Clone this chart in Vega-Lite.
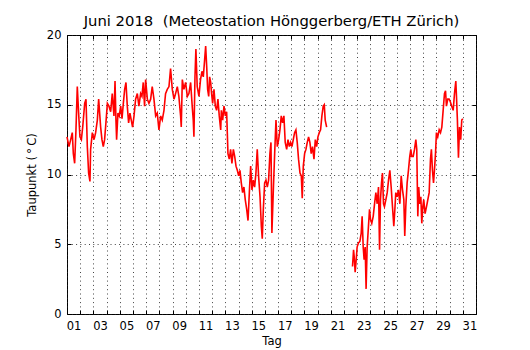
{
  "$schema": "https://vega.github.io/schema/vega-lite/v6.json",
  "width": 409,
  "height": 279,
  "autosize": "none",
  "padding": {"left": 67, "top": 35, "right": 54, "bottom": 36},
  "background": "white",
  "title": {"text": "Juni 2018\u00a0\u00a0(Meteostation Hönggerberg/ETH Zürich)", "font": "DejaVu Sans", "fontSize": 14.8, "fontWeight": "normal", "color": "black", "offset": 5, "dy": 5},
  "config": {
    "view": {"stroke": "black", "strokeWidth": 1},
    "axis": {
      "labelFont": "DejaVu Sans", "labelFontSize": 11.5, "labelColor": "black",
      "titleFont": "DejaVu Sans", "titleFontSize": 11.5, "titleFontWeight": "normal", "titleColor": "black",
      "tickColor": "black", "tickSize": -4, "domain": false,
      "gridColor": "#222222", "gridDash": [1, 3.3], "gridWidth": 1, "gridOpacity": 0.85
    }
  },
  "data": {"values": [
{"tag":1.0,"taupunkt":12.7,"abschnitt":"a"},{"tag":1.15,"taupunkt":12.0,"abschnitt":"a"},{"tag":1.28,"taupunkt":12.5,"abschnitt":"a"},{"tag":1.40,"taupunkt":13.0,"abschnitt":"a"},{"tag":1.48,"taupunkt":11.5,"abschnitt":"a"},{"tag":1.58,"taupunkt":10.8,"abschnitt":"a"},{"tag":1.68,"taupunkt":13.2,"abschnitt":"a"},{"tag":1.78,"taupunkt":16.3,"abschnitt":"a"},{"tag":1.88,"taupunkt":14.4,"abschnitt":"a"},{"tag":1.98,"taupunkt":12.7,"abschnitt":"a"},
{"tag":2.09,"taupunkt":12.5,"abschnitt":"a"},{"tag":2.19,"taupunkt":13.4,"abschnitt":"a"},{"tag":2.34,"taupunkt":15.1,"abschnitt":"a"},{"tag":2.44,"taupunkt":15.4,"abschnitt":"a"},{"tag":2.54,"taupunkt":12.0,"abschnitt":"a"},{"tag":2.64,"taupunkt":10.1,"abschnitt":"a"},{"tag":2.74,"taupunkt":9.5,"abschnitt":"a"},{"tag":2.79,"taupunkt":11.8,"abschnitt":"a"},{"tag":2.92,"taupunkt":13.0,"abschnitt":"a"},
{"tag":3.05,"taupunkt":12.5,"abschnitt":"a"},{"tag":3.17,"taupunkt":13.0,"abschnitt":"a"},{"tag":3.30,"taupunkt":13.9,"abschnitt":"a"},{"tag":3.40,"taupunkt":15.4,"abschnitt":"a"},{"tag":3.55,"taupunkt":13.4,"abschnitt":"a"},{"tag":3.65,"taupunkt":12.5,"abschnitt":"a"},{"tag":3.75,"taupunkt":12.0,"abschnitt":"a"},{"tag":3.85,"taupunkt":12.5,"abschnitt":"a"},{"tag":3.95,"taupunkt":13.7,"abschnitt":"a"},
{"tag":4.06,"taupunkt":15.1,"abschnitt":"a"},{"tag":4.18,"taupunkt":14.9,"abschnitt":"a"},{"tag":4.31,"taupunkt":14.5,"abschnitt":"a"},{"tag":4.43,"taupunkt":15.8,"abschnitt":"a"},{"tag":4.56,"taupunkt":14.2,"abschnitt":"a"},{"tag":4.64,"taupunkt":16.7,"abschnitt":"a"},{"tag":4.71,"taupunkt":13.9,"abschnitt":"a"},{"tag":4.76,"taupunkt":12.5,"abschnitt":"a"},{"tag":4.86,"taupunkt":14.4,"abschnitt":"a"},{"tag":4.96,"taupunkt":14.2,"abschnitt":"a"},
{"tag":5.07,"taupunkt":14.9,"abschnitt":"a"},{"tag":5.17,"taupunkt":14.0,"abschnitt":"a"},{"tag":5.27,"taupunkt":15.1,"abschnitt":"a"},{"tag":5.37,"taupunkt":16.1,"abschnitt":"a"},{"tag":5.47,"taupunkt":16.6,"abschnitt":"a"},{"tag":5.57,"taupunkt":14.9,"abschnitt":"a"},{"tag":5.67,"taupunkt":13.7,"abschnitt":"a"},{"tag":5.77,"taupunkt":14.4,"abschnitt":"a"},{"tag":5.87,"taupunkt":13.9,"abschnitt":"a"},{"tag":5.97,"taupunkt":13.4,"abschnitt":"a"},
{"tag":6.08,"taupunkt":14.2,"abschnitt":"a"},{"tag":6.20,"taupunkt":15.4,"abschnitt":"a"},{"tag":6.33,"taupunkt":15.8,"abschnitt":"a"},{"tag":6.45,"taupunkt":14.9,"abschnitt":"a"},{"tag":6.58,"taupunkt":15.8,"abschnitt":"a"},{"tag":6.68,"taupunkt":15.6,"abschnitt":"a"},{"tag":6.78,"taupunkt":16.6,"abschnitt":"a"},{"tag":6.88,"taupunkt":14.9,"abschnitt":"a"},{"tag":6.96,"taupunkt":16.8,"abschnitt":"a"},
{"tag":7.09,"taupunkt":15.4,"abschnitt":"a"},{"tag":7.21,"taupunkt":15.1,"abschnitt":"a"},{"tag":7.34,"taupunkt":15.4,"abschnitt":"a"},{"tag":7.46,"taupunkt":16.3,"abschnitt":"a"},{"tag":7.59,"taupunkt":15.4,"abschnitt":"a"},{"tag":7.72,"taupunkt":14.2,"abschnitt":"a"},{"tag":7.84,"taupunkt":14.4,"abschnitt":"a"},{"tag":7.97,"taupunkt":13.2,"abschnitt":"a"},
{"tag":8.10,"taupunkt":14.2,"abschnitt":"a"},{"tag":8.22,"taupunkt":13.9,"abschnitt":"a"},{"tag":8.35,"taupunkt":14.6,"abschnitt":"a"},{"tag":8.47,"taupunkt":15.8,"abschnitt":"a"},{"tag":8.60,"taupunkt":16.1,"abschnitt":"a"},{"tag":8.73,"taupunkt":16.3,"abschnitt":"a"},{"tag":8.85,"taupunkt":17.6,"abschnitt":"a"},{"tag":8.98,"taupunkt":16.1,"abschnitt":"a"},
{"tag":9.11,"taupunkt":15.4,"abschnitt":"a"},{"tag":9.23,"taupunkt":15.8,"abschnitt":"a"},{"tag":9.36,"taupunkt":16.3,"abschnitt":"a"},{"tag":9.48,"taupunkt":15.6,"abschnitt":"a"},{"tag":9.61,"taupunkt":14.2,"abschnitt":"a"},{"tag":9.66,"taupunkt":13.4,"abschnitt":"a"},{"tag":9.74,"taupunkt":16.8,"abschnitt":"a"},{"tag":9.86,"taupunkt":16.1,"abschnitt":"a"},{"tag":9.99,"taupunkt":16.6,"abschnitt":"a"},
{"tag":10.12,"taupunkt":15.6,"abschnitt":"a"},{"tag":10.24,"taupunkt":15.8,"abschnitt":"a"},{"tag":10.37,"taupunkt":16.6,"abschnitt":"a"},{"tag":10.49,"taupunkt":14.9,"abschnitt":"a"},{"tag":10.57,"taupunkt":13.9,"abschnitt":"a"},{"tag":10.62,"taupunkt":12.7,"abschnitt":"a"},{"tag":10.70,"taupunkt":17.0,"abschnitt":"a"},{"tag":10.77,"taupunkt":19.0,"abschnitt":"a"},{"tag":10.87,"taupunkt":16.3,"abschnitt":"a"},{"tag":11.00,"taupunkt":15.6,"abschnitt":"a"},
{"tag":11.12,"taupunkt":16.8,"abschnitt":"a"},{"tag":11.23,"taupunkt":17.4,"abschnitt":"a"},{"tag":11.33,"taupunkt":17.0,"abschnitt":"a"},{"tag":11.43,"taupunkt":18.2,"abschnitt":"a"},{"tag":11.51,"taupunkt":19.2,"abschnitt":"a"},{"tag":11.59,"taupunkt":17.7,"abschnitt":"a"},{"tag":11.66,"taupunkt":16.1,"abschnitt":"a"},{"tag":11.74,"taupunkt":15.6,"abschnitt":"a"},{"tag":11.81,"taupunkt":17.0,"abschnitt":"a"},{"tag":11.89,"taupunkt":16.6,"abschnitt":"a"},{"tag":11.96,"taupunkt":15.8,"abschnitt":"a"},
{"tag":12.04,"taupunkt":15.1,"abschnitt":"a"},{"tag":12.14,"taupunkt":16.1,"abschnitt":"a"},{"tag":12.24,"taupunkt":14.9,"abschnitt":"a"},{"tag":12.34,"taupunkt":14.6,"abschnitt":"a"},{"tag":12.44,"taupunkt":15.4,"abschnitt":"a"},{"tag":12.54,"taupunkt":14.2,"abschnitt":"a"},{"tag":12.65,"taupunkt":13.2,"abschnitt":"a"},{"tag":12.70,"taupunkt":14.6,"abschnitt":"a"},{"tag":12.80,"taupunkt":13.9,"abschnitt":"a"},{"tag":12.90,"taupunkt":14.9,"abschnitt":"a"},
{"tag":13.00,"taupunkt":14.2,"abschnitt":"a"},{"tag":13.10,"taupunkt":14.5,"abschnitt":"a"},{"tag":13.20,"taupunkt":11.5,"abschnitt":"a"},{"tag":13.30,"taupunkt":11.1,"abschnitt":"a"},{"tag":13.40,"taupunkt":11.8,"abschnitt":"a"},{"tag":13.50,"taupunkt":10.8,"abschnitt":"a"},{"tag":13.61,"taupunkt":11.8,"abschnitt":"a"},{"tag":13.71,"taupunkt":11.3,"abschnitt":"a"},{"tag":13.81,"taupunkt":10.6,"abschnitt":"a"},{"tag":13.91,"taupunkt":10.3,"abschnitt":"a"},
{"tag":14.01,"taupunkt":9.9,"abschnitt":"a"},{"tag":14.11,"taupunkt":10.3,"abschnitt":"a"},{"tag":14.21,"taupunkt":9.4,"abschnitt":"a"},{"tag":14.31,"taupunkt":8.7,"abschnitt":"a"},{"tag":14.41,"taupunkt":9.1,"abschnitt":"a"},{"tag":14.51,"taupunkt":8.2,"abschnitt":"a"},{"tag":14.62,"taupunkt":7.5,"abschnitt":"a"},{"tag":14.72,"taupunkt":6.7,"abschnitt":"a"},{"tag":14.82,"taupunkt":8.7,"abschnitt":"a"},{"tag":14.92,"taupunkt":10.6,"abschnitt":"a"},
{"tag":15.02,"taupunkt":8.9,"abschnitt":"a"},{"tag":15.12,"taupunkt":9.6,"abschnitt":"a"},{"tag":15.22,"taupunkt":9.1,"abschnitt":"a"},{"tag":15.32,"taupunkt":10.1,"abschnitt":"a"},{"tag":15.42,"taupunkt":11.8,"abschnitt":"a"},{"tag":15.52,"taupunkt":9.9,"abschnitt":"a"},{"tag":15.63,"taupunkt":8.4,"abschnitt":"a"},{"tag":15.73,"taupunkt":6.3,"abschnitt":"a"},{"tag":15.80,"taupunkt":5.4,"abschnitt":"a"},{"tag":15.88,"taupunkt":7.5,"abschnitt":"a"},{"tag":15.98,"taupunkt":9.4,"abschnitt":"a"},
{"tag":16.08,"taupunkt":9.6,"abschnitt":"a"},{"tag":16.18,"taupunkt":9.1,"abschnitt":"a"},{"tag":16.28,"taupunkt":9.6,"abschnitt":"a"},{"tag":16.38,"taupunkt":11.5,"abschnitt":"a"},{"tag":16.46,"taupunkt":12.3,"abschnitt":"a"},{"tag":16.53,"taupunkt":5.8,"abschnitt":"a"},{"tag":16.64,"taupunkt":8.9,"abschnitt":"a"},{"tag":16.74,"taupunkt":11.5,"abschnitt":"a"},{"tag":16.84,"taupunkt":13.9,"abschnitt":"a"},{"tag":16.94,"taupunkt":12.0,"abschnitt":"a"},
{"tag":17.04,"taupunkt":12.5,"abschnitt":"a"},{"tag":17.14,"taupunkt":13.2,"abschnitt":"a"},{"tag":17.24,"taupunkt":14.2,"abschnitt":"a"},{"tag":17.34,"taupunkt":13.7,"abschnitt":"a"},{"tag":17.44,"taupunkt":14.2,"abschnitt":"a"},{"tag":17.54,"taupunkt":12.3,"abschnitt":"a"},{"tag":17.65,"taupunkt":11.8,"abschnitt":"a"},{"tag":17.75,"taupunkt":12.5,"abschnitt":"a"},{"tag":17.85,"taupunkt":12.0,"abschnitt":"a"},{"tag":17.95,"taupunkt":12.3,"abschnitt":"a"},
{"tag":18.05,"taupunkt":12.0,"abschnitt":"a"},{"tag":18.15,"taupunkt":12.5,"abschnitt":"a"},{"tag":18.25,"taupunkt":13.0,"abschnitt":"a"},{"tag":18.35,"taupunkt":13.2,"abschnitt":"a"},{"tag":18.45,"taupunkt":12.3,"abschnitt":"a"},{"tag":18.55,"taupunkt":11.1,"abschnitt":"a"},{"tag":18.66,"taupunkt":10.1,"abschnitt":"a"},{"tag":18.76,"taupunkt":9.9,"abschnitt":"a"},{"tag":18.83,"taupunkt":8.3,"abschnitt":"a"},{"tag":18.91,"taupunkt":10.6,"abschnitt":"a"},
{"tag":19.01,"taupunkt":11.5,"abschnitt":"a"},{"tag":19.11,"taupunkt":11.8,"abschnitt":"a"},{"tag":19.21,"taupunkt":12.3,"abschnitt":"a"},{"tag":19.31,"taupunkt":12.7,"abschnitt":"a"},{"tag":19.41,"taupunkt":12.3,"abschnitt":"a"},{"tag":19.51,"taupunkt":11.5,"abschnitt":"a"},{"tag":19.61,"taupunkt":12.0,"abschnitt":"a"},{"tag":19.72,"taupunkt":11.1,"abschnitt":"a"},{"tag":19.82,"taupunkt":12.5,"abschnitt":"a"},{"tag":19.92,"taupunkt":12.0,"abschnitt":"a"},
{"tag":20.02,"taupunkt":12.7,"abschnitt":"a"},{"tag":20.12,"taupunkt":13.0,"abschnitt":"a"},{"tag":20.22,"taupunkt":13.2,"abschnitt":"a"},{"tag":20.32,"taupunkt":14.2,"abschnitt":"a"},{"tag":20.42,"taupunkt":14.9,"abschnitt":"a"},{"tag":20.50,"taupunkt":15.0,"abschnitt":"a"},{"tag":20.57,"taupunkt":13.9,"abschnitt":"a"},{"tag":20.68,"taupunkt":13.4,"abschnitt":"a"},
{"tag":22.64,"taupunkt":3.4,"abschnitt":"b"},{"tag":22.72,"taupunkt":4.6,"abschnitt":"b"},{"tag":22.77,"taupunkt":4.1,"abschnitt":"b"},{"tag":22.84,"taupunkt":3.0,"abschnitt":"b"},{"tag":22.92,"taupunkt":3.9,"abschnitt":"b"},{"tag":22.99,"taupunkt":4.8,"abschnitt":"b"},
{"tag":23.09,"taupunkt":5.1,"abschnitt":"b"},{"tag":23.20,"taupunkt":5.2,"abschnitt":"b"},{"tag":23.30,"taupunkt":5.8,"abschnitt":"b"},{"tag":23.37,"taupunkt":7.0,"abschnitt":"b"},{"tag":23.45,"taupunkt":4.8,"abschnitt":"b"},{"tag":23.52,"taupunkt":3.9,"abschnitt":"b"},{"tag":23.60,"taupunkt":4.8,"abschnitt":"b"},{"tag":23.67,"taupunkt":1.8,"abschnitt":"b"},{"tag":23.75,"taupunkt":4.8,"abschnitt":"b"},{"tag":23.85,"taupunkt":6.3,"abschnitt":"b"},{"tag":23.93,"taupunkt":7.5,"abschnitt":"b"},
{"tag":24.00,"taupunkt":6.8,"abschnitt":"b"},{"tag":24.10,"taupunkt":6.5,"abschnitt":"b"},{"tag":24.21,"taupunkt":7.0,"abschnitt":"b"},{"tag":24.31,"taupunkt":7.9,"abschnitt":"b"},{"tag":24.41,"taupunkt":8.7,"abschnitt":"b"},{"tag":24.51,"taupunkt":7.9,"abschnitt":"b"},{"tag":24.61,"taupunkt":9.1,"abschnitt":"b"},{"tag":24.69,"taupunkt":4.6,"abschnitt":"b"},{"tag":24.76,"taupunkt":8.2,"abschnitt":"b"},{"tag":24.84,"taupunkt":9.4,"abschnitt":"b"},{"tag":24.91,"taupunkt":10.1,"abschnitt":"b"},{"tag":24.99,"taupunkt":7.9,"abschnitt":"b"},
{"tag":25.06,"taupunkt":7.7,"abschnitt":"b"},{"tag":25.17,"taupunkt":8.2,"abschnitt":"b"},{"tag":25.27,"taupunkt":8.7,"abschnitt":"b"},{"tag":25.37,"taupunkt":9.6,"abschnitt":"b"},{"tag":25.47,"taupunkt":10.3,"abschnitt":"b"},{"tag":25.57,"taupunkt":9.1,"abschnitt":"b"},{"tag":25.67,"taupunkt":7.7,"abschnitt":"b"},{"tag":25.77,"taupunkt":6.3,"abschnitt":"b"},{"tag":25.85,"taupunkt":7.5,"abschnitt":"b"},{"tag":25.92,"taupunkt":8.7,"abschnitt":"b"},
{"tag":26.02,"taupunkt":8.4,"abschnitt":"b"},{"tag":26.12,"taupunkt":8.9,"abschnitt":"b"},{"tag":26.23,"taupunkt":7.9,"abschnitt":"b"},{"tag":26.33,"taupunkt":9.9,"abschnitt":"b"},{"tag":26.43,"taupunkt":8.9,"abschnitt":"b"},{"tag":26.53,"taupunkt":8.2,"abschnitt":"b"},{"tag":26.60,"taupunkt":5.6,"abschnitt":"b"},{"tag":26.68,"taupunkt":7.7,"abschnitt":"b"},{"tag":26.78,"taupunkt":9.4,"abschnitt":"b"},{"tag":26.88,"taupunkt":10.3,"abschnitt":"b"},{"tag":26.98,"taupunkt":11.3,"abschnitt":"b"},
{"tag":27.06,"taupunkt":11.8,"abschnitt":"b"},{"tag":27.13,"taupunkt":11.3,"abschnitt":"b"},{"tag":27.24,"taupunkt":11.3,"abschnitt":"b"},{"tag":27.34,"taupunkt":11.8,"abschnitt":"b"},{"tag":27.44,"taupunkt":12.5,"abschnitt":"b"},{"tag":27.51,"taupunkt":11.8,"abschnitt":"b"},{"tag":27.59,"taupunkt":7.0,"abschnitt":"b"},{"tag":27.66,"taupunkt":9.1,"abschnitt":"b"},{"tag":27.74,"taupunkt":7.9,"abschnitt":"b"},{"tag":27.82,"taupunkt":8.4,"abschnitt":"b"},{"tag":27.89,"taupunkt":6.5,"abschnitt":"b"},{"tag":27.97,"taupunkt":7.7,"abschnitt":"b"},
{"tag":28.04,"taupunkt":8.2,"abschnitt":"b"},{"tag":28.14,"taupunkt":7.2,"abschnitt":"b"},{"tag":28.25,"taupunkt":7.7,"abschnitt":"b"},{"tag":28.35,"taupunkt":8.2,"abschnitt":"b"},{"tag":28.45,"taupunkt":8.7,"abschnitt":"b"},{"tag":28.55,"taupunkt":11.1,"abschnitt":"b"},{"tag":28.62,"taupunkt":11.8,"abschnitt":"b"},{"tag":28.70,"taupunkt":10.3,"abschnitt":"b"},{"tag":28.78,"taupunkt":9.4,"abschnitt":"b"},{"tag":28.85,"taupunkt":10.3,"abschnitt":"b"},{"tag":28.93,"taupunkt":11.5,"abschnitt":"b"},
{"tag":29.00,"taupunkt":13.0,"abschnitt":"b"},{"tag":29.10,"taupunkt":12.7,"abschnitt":"b"},{"tag":29.21,"taupunkt":13.2,"abschnitt":"b"},{"tag":29.31,"taupunkt":13.0,"abschnitt":"b"},{"tag":29.41,"taupunkt":13.4,"abschnitt":"b"},{"tag":29.51,"taupunkt":14.6,"abschnitt":"b"},{"tag":29.61,"taupunkt":15.8,"abschnitt":"b"},{"tag":29.69,"taupunkt":16.0,"abschnitt":"b"},{"tag":29.76,"taupunkt":14.9,"abschnitt":"b"},{"tag":29.86,"taupunkt":15.4,"abschnitt":"b"},{"tag":29.96,"taupunkt":15.4,"abschnitt":"b"},
{"tag":30.06,"taupunkt":15.2,"abschnitt":"b"},{"tag":30.16,"taupunkt":14.9,"abschnitt":"b"},{"tag":30.27,"taupunkt":14.6,"abschnitt":"b"},{"tag":30.37,"taupunkt":15.8,"abschnitt":"b"},{"tag":30.47,"taupunkt":16.7,"abschnitt":"b"},{"tag":30.52,"taupunkt":15.6,"abschnitt":"b"},{"tag":30.59,"taupunkt":13.9,"abschnitt":"b"},{"tag":30.67,"taupunkt":11.2,"abschnitt":"b"},{"tag":30.75,"taupunkt":13.4,"abschnitt":"b"},{"tag":30.84,"taupunkt":12.5,"abschnitt":"b"},{"tag":30.92,"taupunkt":13.9,"abschnitt":"b"},{"tag":31.0,"taupunkt":14.0,"abschnitt":"b"}
  ]},
  "resolve": {"axis": {"x": "independent", "y": "independent"}},
  "layer": [
    {
      "mark": {"type": "line", "color": "#ff0000", "strokeWidth": 1.6, "strokeJoin": "miter"},
      "encoding": {
        "x": {"field": "tag", "type": "quantitative",
              "scale": {"domain": [1, 32], "nice": false, "zero": false},
              "axis": {"title": "Tag", "values": [1,2,3,4,5,6,7,8,9,10,11,12,13,14,15,16,17,18,19,20,21,22,23,24,25,26,27,28,29,30,31,32],
                       "labelExpr": "(datum.value % 2 == 1 && datum.value < 32) ? ((datum.value < 10 ? '0' : '') + datum.value) : ''",
                       "labelOffset": 6.6, "labelFlush": false, "labelOverlap": false, "labelPadding": 10, "titlePadding": 4, "grid": true}},
        "y": {"field": "taupunkt", "type": "quantitative",
              "scale": {"domain": [0, 20], "nice": false},
              "axis": {"title": "Taupunkt (\u2009°\u2009C)", "values": [0, 5, 10, 15, 20], "labelPadding": 10, "titlePadding": 9, "grid": true}},
        "detail": {"field": "abschnitt", "type": "nominal"}
      }
    },
    {
      "mark": {"type": "line", "opacity": 0},
      "encoding": {
        "x": {"field": "tag", "type": "quantitative",
              "axis": {"orient": "top", "title": null, "labels": false, "grid": false, "values": [1,2,3,4,5,6,7,8,9,10,11,12,13,14,15,16,17,18,19,20,21,22,23,24,25,26,27,28,29,30,31,32]}},
        "y": {"field": "taupunkt", "type": "quantitative",
              "axis": {"orient": "right", "title": null, "labels": false, "grid": false, "values": [0, 5, 10, 15, 20]}},
        "detail": {"field": "abschnitt", "type": "nominal"}
      }
    }
  ]
}
